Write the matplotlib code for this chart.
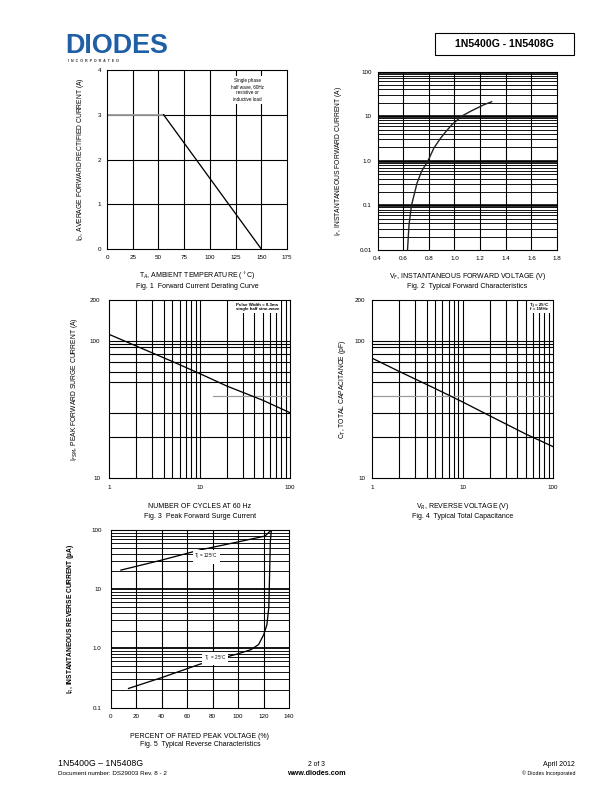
import matplotlib.pyplot as plt
from matplotlib.lines import Line2D

plt.rcParams['font.family'] = ['Liberation Sans', 'DejaVu Sans']

# ---- data ----
# Fig. 1 derating curve
temp_flat = [0, 55]
io_flat = [3, 3]
temp_slope = [55, 150]
io_slope = [3, 0]

# Fig. 2 forward characteristics
vf = [0.634, 0.646, 0.665, 0.709, 0.743, 0.794, 0.84, 0.892, 0.933, 0.98,
      1.057, 1.13, 1.23, 1.29]
i_f = [0.01, 0.037, 0.1, 0.32, 0.575, 1.0, 1.93, 3.2, 4.5, 6.4,
       10, 13, 18, 21]

# Fig. 3 surge current
cycles = [1, 2, 5, 10, 20, 50, 100]
ifsm = [112, 92, 71, 58, 47, 37, 30]

# Fig. 4 capacitance
vr = [1, 2, 5, 10, 20, 50, 100]
ct = [75, 60, 45, 36, 28.5, 21, 17]

# Fig. 5 reverse characteristics
pct_125 = [8, 40, 70, 100, 121, 126]
ir_125 = [21, 31, 46, 63, 79, 100]
pct_25 = [14, 40, 70, 100, 110, 116, 120, 122.5, 124, 124.6, 125.2, 126]
ir_25 = [0.21, 0.32, 0.54, 0.81, 0.95, 1.16, 1.7, 2.5, 4.9, 17, 63, 100]

W, H = 612, 792
fig = plt.figure(figsize=(W / 72, H / 72), dpi=72)


def ax_at(x0, y0, x1, y1):
    return fig.add_axes([x0 / W, 1 - y1 / H, (x1 - x0) / W, (y1 - y0) / H])


def txt(x, y, s, **kw):
    fig.text(x / W, 1 - y / H, s, **kw)


def log_lines(lo_dec, hi_dec):
    out = []
    d = lo_dec
    while d < hi_dec:
        for m in range(2, 10):
            out.append(m * d)
        d *= 10
    return out


def style(ax, pad_x=6, pad_y=5):
    ax.minorticks_off()
    ax.tick_params(length=0, labelsize=6.3)
    ax.tick_params(axis='x', pad=pad_x)
    ax.tick_params(axis='y', pad=pad_y)
    for s in ax.spines.values():
        s.set_linewidth(1.1)
        s.set_zorder(5)


def labels(ax, ylab_x, ylab, xlab_y, xlab, cap_y, cap, ybold=False):
    b = ax.get_position()
    yc = H - (b.y0 + b.height / 2) * H
    xc = (b.x0 + b.width / 2) * W
    txt(ylab_x, yc, ylab, rotation=90, ha='center', va='center',
        fontsize=6.6 if ybold else 6.8, fontweight='bold' if ybold else 'normal')
    txt(xc, xlab_y, xlab, ha='center', va='center', fontsize=7)
    txt(xc, cap_y, cap, ha='center', va='center', fontsize=7)


# ---- Fig. 1 ----
ax1 = ax_at(107, 70, 287, 249)
ax1.set_xlim(0, 175)
ax1.set_ylim(0, 4)
for x in [25, 50, 75, 100, 125, 150]:
    ax1.axvline(x, color='black', lw=1.1)
for y in [1, 2, 3]:
    ax1.axhline(y, color='black', lw=1.1)
ax1.plot(temp_flat, io_flat, color='#9a9a9a', lw=1.8, zorder=3)
ax1.plot(temp_slope, io_slope, color='black', lw=1.3, zorder=3)
ax1.set_xticks([0, 25, 50, 75, 100, 125, 150, 175])
ax1.set_yticks([0, 1, 2, 3, 4])
style(ax1, pad_x=6, pad_y=6)
ax1.text(0.778, 0.955, 'Single phase\nhalf wave, 60Hz\nresistive or\ninductive load',
         transform=ax1.transAxes, ha='center', va='top', fontsize=4.6, linespacing=1.3,
         zorder=6, bbox=dict(fc='white', ec='none', pad=2))
labels(ax1, 80, r'I$_O$, AVERAGE FORWARD RECTIFIED CURRENT (A)',
       276, r'T$_A$, AMBIENT TEMPERATURE ($^\circ$C)',
       287, 'Fig. 1  Forward Current Derating Curve')

# ---- Fig. 2 ----
ax2 = ax_at(377.5, 71.5, 557, 250)
ax2.set_yscale('log')
ax2.set_xlim(0.4, 1.8)
ax2.set_ylim(0.01, 100)
for x in [0.6, 0.8, 1.0, 1.2, 1.4, 1.6]:
    ax2.axvline(x, color='black', lw=1.1)
for y in log_lines(0.01, 100):
    ax2.axhline(y, color='black', lw=0.9)
for y in [0.1, 1, 10, 100]:
    ax2.axhline(y, color='black', lw=2.6)
ax2.plot(vf, i_f, color='#222222', lw=1.4, zorder=3)
ax2.set_xticks([0.4, 0.6, 0.8, 1.0, 1.2, 1.4, 1.6, 1.8])
ax2.set_xticklabels(['0.4', '0.6', '0.8', '1.0', '1.2', '1.4', '1.6', '1.8'])
ax2.set_yticks([0.01, 0.1, 1, 10, 100])
ax2.set_yticklabels(['0.01', '0.1', '1.0', '10', '100'])
style(ax2, pad_x=6, pad_y=6)
labels(ax2, 338, r'I$_F$, INSTANTANEOUS FORWARD CURRENT (A)',
       276, r'V$_F$, INSTANTANEOUS FORWARD VOLTAGE (V)',
       287, 'Fig. 2  Typical Forward Characteristics')

# ---- Fig. 3 ----
ax3 = ax_at(109.3, 300, 290, 478)
ax3.set_xscale('log')
ax3.set_yscale('log')
ax3.set_xlim(1, 100)
ax3.set_ylim(10, 200)
for x in log_lines(1, 100)[:8] + [10] + log_lines(10, 100):
    ax3.axvline(x, color='black', lw=1.1)
for y in [20, 30, 50, 60, 70, 80, 90, 95, 100]:
    ax3.axhline(y, color='black', lw=1.1)
ax3.plot([14, 100], [40, 40], color='#9a9a9a', lw=1.2)
ax3.plot(cycles, ifsm, color='black', lw=1.3, zorder=3)
ax3.set_xticks([1, 10, 100])
ax3.set_xticklabels(['1', '10', '100'])
ax3.set_yticks([10, 100, 200])
ax3.set_yticklabels(['10', '100', '200'])
style(ax3, pad_x=7, pad_y=9)
ax3.text(0.82, 0.985, 'Pulse Width = 8.3ms\nsingle half sine-wave',
         transform=ax3.transAxes, ha='center', va='top', fontsize=4.4,
         fontweight='bold', linespacing=1.2, zorder=6,
         bbox=dict(fc='white', ec='none', pad=1.5))
labels(ax3, 75, r'I$_{FSM}$, PEAK FORWARD SURGE CURRENT (A)',
       507, 'NUMBER OF CYCLES AT 60 Hz',
       517, 'Fig. 3  Peak Forward Surge Current')

# ---- Fig. 4 ----
ax4 = ax_at(372.3, 300, 552.7, 478)
ax4.set_xscale('log')
ax4.set_yscale('log')
ax4.set_xlim(1, 100)
ax4.set_ylim(10, 200)
for x in log_lines(1, 100)[:8] + [10] + log_lines(10, 100):
    ax4.axvline(x, color='black', lw=1.1)
for y in [20, 30, 50, 60, 70, 80, 90, 95, 100]:
    ax4.axhline(y, color='black', lw=1.1)
ax4.axhline(40, color='#9a9a9a', lw=1.2)
ax4.plot(vr, ct, color='black', lw=1.3, zorder=3)
ax4.set_xticks([1, 10, 100])
ax4.set_xticklabels(['1', '10', '100'])
ax4.set_yticks([10, 100, 200])
ax4.set_yticklabels(['10', '100', '200'])
style(ax4, pad_x=7, pad_y=7)
ax4.text(0.875, 0.985, 'Tj = 25°C\nf = 1MHz',
         transform=ax4.transAxes, ha='left', va='top', fontsize=4.4,
         fontweight='bold', linespacing=1.2, zorder=6,
         bbox=dict(fc='white', ec='none', pad=1.5))
labels(ax4, 342, r'C$_T$, TOTAL CAPACITANCE (pF)',
       507, r'V$_R$, REVERSE VOLTAGE (V)',
       517, 'Fig. 4  Typical Total Capacitance')

# ---- Fig. 5 ----
ax5 = ax_at(110.7, 530, 289.2, 707.5)
ax5.set_yscale('log')
ax5.set_xlim(0, 140)
ax5.set_ylim(0.1, 100)
for x in [20, 40, 60, 80, 100, 120]:
    ax5.axvline(x, color='black', lw=1.1)
for y in log_lines(0.1, 100):
    ax5.axhline(y, color='black', lw=0.9)
for y in [1, 10]:
    ax5.axhline(y, color='black', lw=1.8)
ax5.plot(pct_125, ir_125, color='black', lw=1.3, zorder=3)
ax5.plot(pct_25, ir_25, color='black', lw=1.3, zorder=3)
ax5.set_xticks([0, 20, 40, 60, 80, 100, 120, 140])
ax5.set_yticks([0.1, 1, 10, 100])
ax5.set_yticklabels(['0.1', '1.0', '10', '100'])
style(ax5, pad_x=7, pad_y=9)
ax5.text(0.535, 0.848, r'T$_j$ = 125°C', transform=ax5.transAxes,
         ha='center', va='center', fontsize=4.6, zorder=6,
         bbox=dict(fc='white', ec='none', pad=1.5))
ax5.text(0.585, 0.275, r'T$_j$  = 25°C', transform=ax5.transAxes,
         ha='center', va='center', fontsize=4.6, zorder=6,
         bbox=dict(fc='white', ec='none', pad=1.5))
labels(ax5, 70, r'I$_R$, INSTANTANEOUS REVERSE CURRENT (µA)',
       736, 'PERCENT OF RATED PEAK VOLTAGE (%)',
       745, 'Fig. 5  Typical Reverse Characteristics', ybold=True)

# ---- header ----
blue = '#1f5fa6'
txt(65, 46, 'DIODES', fontsize=27, fontweight='bold', color=blue,
    ha='left', va='center')
for yy in [41, 47.5]:
    fig.add_artist(Line2D([66 / W, 170 / W], [1 - yy / H, 1 - yy / H],
                          color='white', lw=1.0, transform=fig.transFigure))
txt(68, 60.5, 'I  N  C  O  R  P  O  R  A  T  E  D', fontsize=3.6,
    fontweight='bold', color='#333333', ha='left', va='center')
fig.add_artist(plt.Rectangle((435 / W, 1 - 55 / H), 139 / W, 22 / H,
                             fill=False, ec='black', lw=1.1,
                             transform=fig.transFigure))
txt(504.5, 44, '1N5400G - 1N5408G', fontsize=10.5, fontweight='bold',
    ha='center', va='center')

# ---- footer ----
txt(58, 764, '1N5400G – 1N5408G', fontsize=8.8, ha='left', va='center')
txt(58, 773.5, 'Document number: DS29003 Rev. 8 - 2', fontsize=6.3,
    ha='left', va='center')
txt(316, 764, '2 of 3', fontsize=6.8, ha='center', va='center')
txt(316, 773.5, 'www.diodes.com', fontsize=7.3, fontweight='bold',
    ha='center', va='center')
txt(575, 764, 'April 2012', fontsize=7, ha='right', va='center')
txt(575, 773.5, '© Diodes Incorporated', fontsize=5.3, ha='right',
    va='center')

fig.savefig('out.png', dpi=72)
